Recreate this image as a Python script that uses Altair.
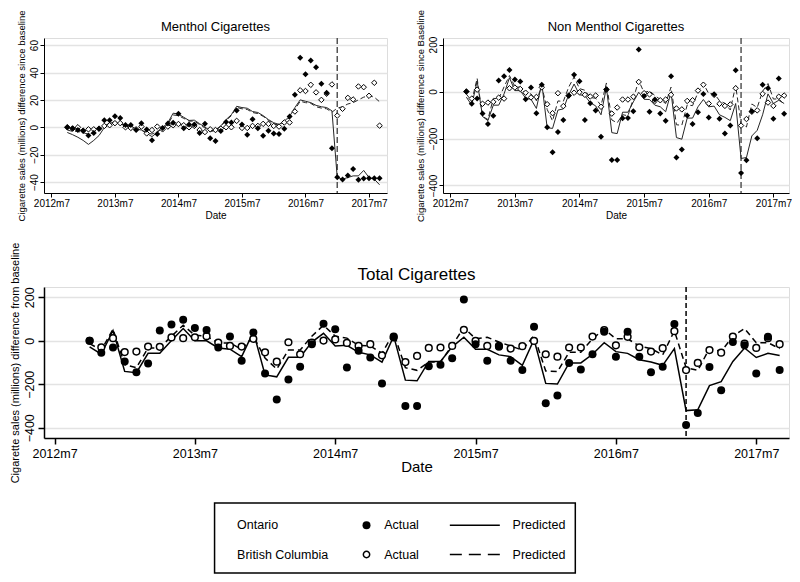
import altair as alt
import pandas as pd

FONT = "Liberation Sans"

# Stata monthly dates (630 = 2012m7); observations 2012m10 .. 2017m9
months = list(range(633, 693))
tick_months = [630, 642, 654, 666, 678, 690]
ban_month = [684]  # 2017m1

# ---------------- Menthol ----------------
men_on_act = [0, -0.7, -2, -2.5, -6, -4.2, -1, 5.2, 5.2, 8,
              6.8, 1.6, 1.6, -2, 3, -1.6, -9.4, -5, -0.5, 2.8,
              3.3, 9.9, -0.7, 2, 2, -4.2, 2.6, -8, -10, -2.8,
              3.8, 3.5, 12.2, 2, -5.4, 5.9, -0.7, -6.1, -2.6, -4.5,
              -5, -1, 7.8, 23.8, 50.8, 38.8, 48.7, 43.8, 31.8, 25.2,
              -15.3, -36.5, -38.1, -35.3, -30.4, -38.4, -37.4, -37.2, -37.2, -37.2]
men_bc_act = [0, -1, 0, -2.5, -1.5, -1.5, -1, 1, 1.5, 3,
              3, 0, -0.5, -1.5, 0.5, -4.5, -2, 0.5, -1.5, 0.5,
              1.5, 2.4, 1.5, 0, 1, -2, -3.5, -1.5, -2, -1,
              0, 0, 4.7, -0.5, -0.5, 1, 1, 2.5, 2.5, 1,
              0.5, 3.5, 3.5, 11.5, 27, 26.5, 31, 25.5, 20, 24.5,
              31.3, 8.5, 13.5, 21.5, 20.3, 29.8, 29.3, 23, 32.5, 1.2]
men_on_pred = [-3.8, -5.4, -7.3, -9.6, -12.5, -9.6, -6, -0.2, 2.8, 4,
               2.1, 1.6, 1, -1.4, -2, -4.5, -6.8, -3.8, -0.2, 3.3,
               10.3, 9.6, 7.3, 5, 5.2, 2.6, 0.2, -2.6, -2, 1,
               5.6, 9.2, 15.3, 14.4, 13.9, 11.5, 10.8, 8.5, 5.6, 3.3,
               2.1, 4.5, 8, 14.4, 20, 19, 18, 16, 15, 14.4,
               12, -36.7, -37.9, -36.7, -35.5, -35.5, -31.5, -36.7, -37.9, -42]
men_bc_pred = [-2, -3, -3, -4, -5, -4, -2, 1, 3, 4,
               3, 1, 0, -1, -2, -4, -5, -3, -1, 2,
               9, 8.5, 6.5, 4.5, 4.5, 2, -0.5, -3, -2.5, 0.5,
               5, 8.5, 14.5, 13.5, 13, 10.8, 10, 8, 5, 2.5,
               1.5, 4, 7, 13, 19, 18, 17.5, 15, 14, 13.5,
               11, 14, 15, 17, 18, 20, 22, 23, 22, 18.6]

# ---------------- Non menthol ----------------
non_on_act = [0, -52, -30, -94, -138, -103, 47, 65, 92, 51,
              43, -33, 17, -92, 29, -152, -258, -172, -121, -18,
              72, 44, -121, -50, -81, -192, 10, -291, -291, -114,
              -113, -84, 179, -19, -86, -34, -94, -124, 65, -281,
              -247, -102, -138, -88, -10, -110, -12, -116, -179, -145,
              91, -347, -293, -84, -199, 29, 14, -116, 56, -95]
non_bc_act = [0, -30, 8, -52, -47, -44, -26, -30, 14, 17,
              11, -5, -25, -23, 18, -54, -92, -7, -62, -17,
              -5, -3, -14, -21, -17, -65, 8, -94, -68, -34,
              -34, -22, 41, -7, -12, -40, -37, -34, -14, -72,
              -76, -40, -37, 4, 29, -51, -14, -52, -61, -55,
              14, -145, -117, -86, -80, -10, -47, -61, -22, -17]
non_on_pred = [-24, -58, 45, -106, -124, -58, -58, -10, 59, 4,
               4, -28, -33, -72, 36, -154, -157, -79, -74, -14,
               32, -14, -17, -48, -61, -99, 18, -175, -179, -88,
               -88, -44, -3, -33, -34, -58, -65, -86, -3, -196,
               -203, -113, -113, -65, -34, -65, -62, -99, -110, -124,
               -51, -285, -281, -189, -165, -99, -10, -51, -37, -51]
non_bc_pred = [-11, -40, 56, -106, -119, -29, -31, 20, 68, 21,
               18, -11, -10, -39, 23, -76, -125, -40, -42, 19,
               62, 12.5, 5.5, -25.5, -28.5, -60, 36.5, -121, -133.5, -98.5,
               -103, -29.5, 46.5, -4.5, 3, -16.8, -34, -51, 19, -141.5,
               -143.5, -57, -60, -4, 34, -9, -8.5, -39, -50, -78.5,
               25, -138, -151, -53, -68, 1, 34, -32, -31, -54.6]

# ---------------- Total ----------------
tot_on_act = [0, -55, -31, -95, -145, -105, 47, 75, 96, 58,
              49, -31, 19, -92, 38, -151, -270, -178, -120, -16,
              78, 53, -123, -46, -77, -196, 15, -300, -300, -117,
              -110, -80, 190, -16, -92, -28, -92, -135, 64, -287,
              -252, -102, -132, -62, 41, -73, 41, -73, -145, -119,
              77, -387, -332, -121, -228, -6, -21, -151, 18, -135]
tot_bc_act = [0, -30, 12, -52, -50, -27, -28, 15, 12, 16,
              21, -9, -24, -27, 9, -53, -96, -7, -62, -9,
              1, 6, -10, -24, -16, -67, 19, -98, -70, -33,
              -31, -24, 50, -1, -24, -24, -36, -25, -1, -62,
              -73, -31, -31, 19, 49, -21, 18, -30, -50, -34,
              44, -135, -102, -43, -55, 19, -13, -33, 12, -16]
tot_on_pred = [-28, -62, 47, -141, -147, -58, -58, 1, 56, 0,
               0, -33, -39, -73, 41, -157, -166, -76, -76, -6,
               34, -24, -21, -53, -65, -98, 21, -181, -184, -95,
               -95, -28, 16, -39, -39, -65, -73, -113, 6, -196,
               -199, -102, -102, -62, -9, -50, -58, -87, -98, -113,
               -36, -321, -317, -206, -188, -95, -33, -77, -58, -68]
tot_bc_pred = [-13, -43, 53, -110, -124, -33, -33, 21, 71, 25,
               21, -10, -10, -40, 21, -80, -130, -43, -43, 21,
               71, 21, 12, -21, -24, -58, 36, -124, -136, -98,
               -98, -21, 61, 9, 16, -6, -24, -43, 24, -139,
               -142, -53, -53, 9, 53, 9, 9, -24, -36, -65,
               46, -124, -136, -36, -50, 21, 56, -9, -9, -36]

LABEL_EXPR = "floor(datum.value/12)+1960 + 'm' + (datum.value%12+1)"


def long_df(on_act, bc_act, on_pred, bc_pred):
    rows = []
    for name, vals in [("on_act", on_act), ("bc_act", bc_act),
                       ("on_pred", on_pred), ("bc_pred", bc_pred)]:
        for t, v in zip(months, vals):
            rows.append({"t": t, "value": v, "series": name})
    return pd.DataFrame(rows)


def panel(df, title, ylab, ydom, yticks, xdom, width, height, big):
    lab_fs = 12.5 if big else 10
    x = alt.X("t:Q",
              scale=alt.Scale(domain=xdom, nice=False, zero=False),
              axis=alt.Axis(values=tick_months, labelExpr=LABEL_EXPR, title="Date",
                            grid=False, domainColor="black", tickColor="black",
                            domainWidth=1.5 if big else 1, tickWidth=1.5 if big else 1,
                            tickSize=6 if big else 4, labelPadding=3 if big else 1,
                            labelFontSize=lab_fs, labelColor="black", labelFont=FONT,
                            labelFlush=False, labelOverlap=False,
                            titleFontSize=15 if big else 10, titleFontWeight="normal",
                            titleColor="black", titleFont=FONT,
                            titlePadding=0 if big else 2))
    y = alt.Y("value:Q",
              scale=alt.Scale(domain=ydom, nice=False, zero=False),
              axis=alt.Axis(values=yticks, title=ylab, grid=True,
                            gridColor="#e3e3e3", gridWidth=1.5,
                            domainColor="black", tickColor="black",
                            domainWidth=1.5 if big else 1, tickWidth=1.5 if big else 1,
                            tickSize=6 if big else 4, labelPadding=2 if big else 1,
                            labelAngle=270, labelAlign="center", labelBaseline="bottom",
                            labelFontSize=lab_fs, labelColor="black", labelFont=FONT,
                            labelFlush=False, labelOverlap=False,
                            titleFontSize=11 if big else 9.5, titleFontWeight="normal",
                            titleColor="black", titleFont=FONT, titlePadding=3))
    base = alt.Chart(df)
    line_col = "black" if big else "#262626"
    lw = 1.5 if big else 1
    rule = alt.Chart(pd.DataFrame({"t": ban_month})).mark_rule(
        color="black" if big else "#555555", strokeDash=[5, 3] if big else [6, 3],
        strokeWidth=1.5).encode(x=x)
    on_line = base.transform_filter(alt.datum.series == "on_pred").mark_line(
        color=line_col, strokeWidth=lw).encode(x=x, y=y)
    bc_line = base.transform_filter(alt.datum.series == "bc_pred").mark_line(
        color=line_col, strokeWidth=lw, strokeDash=[6, 4] if big else [5, 3]).encode(x=x, y=y)
    shape = "circle" if big else "diamond"
    on_pts = base.transform_filter(alt.datum.series == "on_act").mark_point(
        shape=shape, filled=True, color="black", opacity=1,
        size=64 if big else 36).encode(x=x, y=y)
    bc_pts = base.transform_filter(alt.datum.series == "bc_act").mark_point(
        shape=shape, filled=True, fill="white", stroke="black", opacity=1,
        strokeWidth=1.5 if big else 1, size=45 if big else 30).encode(x=x, y=y)
    # panel heading, placed just above the plot area
    head = alt.Chart(pd.DataFrame({"heading": [title]})).mark_text(
        fontSize=17 if big else 13, font=FONT, color="black",
        align="center", baseline="bottom").encode(
        x=alt.value(width / 2), y=alt.value(-3 if big else -4), text="heading:N")
    return alt.layer(rule, on_line, bc_line, bc_pts, on_pts, head).properties(
        width=width, height=height)


menthol = panel(long_df(men_on_act, men_bc_act, men_on_pred, men_bc_pred),
                "Menthol Cigarettes",
                "Cigarette sales (millions) difference since baseline",
                [-48, 65.2], [-40, -20, 0, 20, 40, 60], [628.6, 693.4], 343, 155, False)
nonmenthol = panel(long_df(non_on_act, non_bc_act, non_on_pred, non_bc_pred),
                   "Non Menthol Cigarettes",
                   "Cigarette sales (millions) difference since Baseline",
                   [-432, 228], [-400, -200, 0, 200], [628.66, 692.9], 346, 155, False)
total = panel(long_df(tot_on_act, tot_bc_act, tot_on_pred, tot_bc_pred),
              "Total Cigarettes",
              "Cigarette sales (millions) difference from baseline",
              [-447, 247], [-400, -200, 0, 200], [629.1, 692.8], 745, 151, True)

# ---------------- Legend (boxed key, laid out in its own frame) ----------------
leg_labels = ["Ontario", "British Columbia"]
leg_frame_x = [39, 799]
leg_frame_y = [509, 581]
leg_box = pd.DataFrame({"x": [213], "x2": [581], "y": [509], "y2": [581]})
leg_rows = pd.DataFrame({
    "row_y": [532, 562],
    "region": leg_labels,
    "sym_x": [368, 368],
    "act_x": [386, 386],
    "line_x": [453, 453],
    "line_x2": [504, 504],
    "pred_x": [517, 517],
    "region_x": [236, 236],
})
lx = alt.Scale(domain=leg_frame_x, nice=False, zero=False)
ly = alt.Scale(domain=leg_frame_y, nice=False, zero=False, reverse=True)
lbase = alt.Chart(leg_rows)
box = alt.Chart(leg_box).mark_rect(fillOpacity=0, stroke="black", strokeWidth=1.5).encode(
    x=alt.X("x:Q", scale=lx, axis=None), x2="x2:Q",
    y=alt.Y("y:Q", scale=ly, axis=None), y2="y2:Q")
txt_kw = dict(align="left", baseline="middle", fontSize=12.5, font=FONT, color="black")
t_region = lbase.mark_text(**txt_kw).encode(
    x=alt.X("region_x:Q", scale=lx, axis=None), y=alt.Y("row_y:Q", scale=ly, axis=None),
    text="region:N")
t_act = lbase.mark_text(**txt_kw).encode(
    x=alt.X("act_x:Q", scale=lx, axis=None), y=alt.Y("row_y:Q", scale=ly, axis=None),
    text=alt.value("Actual"))
t_pred = lbase.mark_text(**txt_kw).encode(
    x=alt.X("pred_x:Q", scale=lx, axis=None), y=alt.Y("row_y:Q", scale=ly, axis=None),
    text=alt.value("Predicted"))
p_on = lbase.transform_filter(alt.datum.region == "Ontario").mark_point(
    shape="circle", filled=True, color="black", opacity=1, size=64).encode(
    x=alt.X("sym_x:Q", scale=lx, axis=None), y=alt.Y("row_y:Q", scale=ly, axis=None))
p_bc = lbase.transform_filter(alt.datum.region == "British Columbia").mark_point(
    shape="circle", filled=True, fill="white", stroke="black", strokeWidth=1.5,
    opacity=1, size=40).encode(
    x=alt.X("sym_x:Q", scale=lx, axis=None), y=alt.Y("row_y:Q", scale=ly, axis=None))
l_on = lbase.transform_filter(alt.datum.region == "Ontario").mark_rule(
    color="black", strokeWidth=1.5).encode(
    x=alt.X("line_x:Q", scale=lx, axis=None), x2="line_x2:Q",
    y=alt.Y("row_y:Q", scale=ly, axis=None))
l_bc = lbase.transform_filter(alt.datum.region == "British Columbia").mark_rule(
    color="black", strokeWidth=1.5, strokeDash=[12, 7]).encode(
    x=alt.X("line_x:Q", scale=lx, axis=None), x2="line_x2:Q",
    y=alt.Y("row_y:Q", scale=ly, axis=None))
legend = alt.layer(box, t_region, t_act, t_pred, l_on, l_bc, p_on, p_bc).properties(
    width=745, height=70,
    view=alt.ViewBackground(stroke="transparent", strokeWidth=0))

top_row = alt.hconcat(menthol, nonmenthol, spacing=56, bounds="flush")
chart = alt.vconcat(top_row, total, legend, spacing=18).properties(
    padding=0, background="white"
).configure_view(strokeWidth=0).configure(font=FONT)

chart.save("out.html", embed_options={"renderer": "svg", "actions": False})
